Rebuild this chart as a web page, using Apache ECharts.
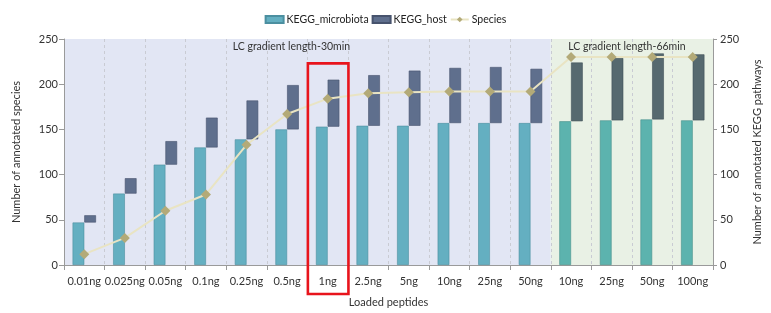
<!DOCTYPE html>
<html><head><meta charset="utf-8">
<script src="https://cdn.jsdelivr.net/npm/echarts@6/dist/echarts.min.js"></script>
<style>html,body{margin:0;padding:0;background:#fff}#c{width:771px;height:313px}</style>
</head><body><div id="c"></div>
<script>
var categories = ['0.01ng','0.025ng','0.05ng','0.1ng','0.25ng','0.5ng','1ng','2.5ng','5ng','10ng','25ng','50ng','10ng','25ng','50ng','100ng'];
var microbiota = [47,79,111,130,139,150,153,154,154,157,157,157,159,160,161,160];
var hostTop = [55,96,137,163,182,199,205,210,215,218,219,217,224,229,234,233];
var species = [12,30,60,78,133,167,184,190,191,192,192,192,230,230,230,230];
var yTicks = [0,50,100,150,200,250];
var regionLabels = ['LC gradient length-30min','LC gradient length-66min'];
var regionEndIndex = 11; // last category of first region
var highlightIndex = 6;  // '1ng'

var FONT = 'Lato';
var chart = echarts.init(document.getElementById('c'), null, {renderer:'canvas'});

function inRegion2(i){ return i > regionEndIndex; }
var microData = microbiota.map(function(v,i){
  return {value:v, itemStyle: inRegion2(i) ? {color:'#5cb3ae', borderColor:'#48908c'} : {color:'#64afc1', borderColor:'#4b8fa0'}};
});
var baseData = microbiota.map(function(v){ return v; });
var hostData = hostTop.map(function(v,i){
  return {value: v - microbiota[i], itemStyle: inRegion2(i) ? {color:'#56696f', borderColor:'#405157'} : {color:'#5f6f8d', borderColor:'#47536d'}};
});

var axisLabelStyle = {fontFamily:FONT, fontSize:11, color:'#333'};
var option = {
  animation:false,
  textStyle:{fontFamily:FONT},
  legend:{
    top:9, left:'center', itemGap:3, itemWidth:18, itemHeight:7,
    textStyle:{fontFamily:FONT, fontSize:10.5, color:'#222', padding:[0,0,0,-2]},
    data:[{name:'KEGG_microbiota', icon:'rect'},{name:'KEGG_host', icon:'rect'},{name:'Species'}]
  },
  grid:{left:64, right:48.5, top:39, bottom:41, containLabel:false},
  xAxis:{
    type:'category', data:categories, boundaryGap:true,
    name:'Loaded peptides', nameLocation:'middle', nameGap:32,
    nameTextStyle:{fontFamily:FONT, fontSize:11, color:'#333'},
    axisLine:{lineStyle:{color:'#9a9a9a'}},
    axisTick:{show:true, length:5, alignWithLabel:false, lineStyle:{color:'#9a9a9a'}},
    axisLabel:Object.assign({margin:11, interval:0}, axisLabelStyle),
    splitLine:{show:true, interval:0, lineStyle:{color:'#c9cbd3', type:[3,3], width:1}}
  },
  yAxis:[{
    type:'value', min:yTicks[0], max:yTicks[yTicks.length-1], interval:50,
    name:'Number of annotated species', nameLocation:'middle', nameGap:42, nameRotate:90,
    nameTextStyle:{fontFamily:FONT, fontSize:11, color:'#333'},
    axisLine:{show:true, lineStyle:{color:'#9a9a9a'}},
    axisTick:{show:true, length:5, lineStyle:{color:'#9a9a9a'}},
    axisLabel:Object.assign({margin:6}, axisLabelStyle),
    splitLine:{show:false}
  },{
    type:'value', min:yTicks[0], max:yTicks[yTicks.length-1], interval:50, position:'right',
    name:'Number of annotated KEGG pathways', nameLocation:'middle', nameGap:39, nameRotate:90,
    nameTextStyle:{fontFamily:FONT, fontSize:11, color:'#333'},
    axisLine:{show:true, lineStyle:{color:'#9a9a9a'}},
    axisTick:{show:true, length:4, lineStyle:{color:'#9a9a9a'}},
    axisLabel:Object.assign({margin:7}, axisLabelStyle),
    splitLine:{show:false}
  }],
  series:[
    {name:'KEGG_microbiota', type:'bar', yAxisIndex:1, stack:'m', barWidth:11.7, barGap:'0%',
     itemStyle:{color:'#64afc1', borderColor:'#4b8fa0', borderWidth:0.6}, data:microData, z:3},
    {name:'_base', type:'bar', yAxisIndex:1, stack:'h', barWidth:11.7, barGap:'0%',
     itemStyle:{color:'rgba(0,0,0,0)'}, data:baseData, z:3, silent:true},
    {name:'KEGG_host', type:'bar', yAxisIndex:1, stack:'h', barWidth:11.7, barGap:'0%',
     itemStyle:{color:'#5f6f8d', borderColor:'#47536d', borderWidth:0.6}, data:hostData, z:3},
    {name:'Species', type:'line', yAxisIndex:0, data:species, symbol:'diamond', symbolSize:10,
     lineStyle:{color:'#e9e4c3', width:2}, itemStyle:{color:'#b3aa78'}, z:5}
  ]
};
chart.setOption(option);

function overlays(){
  var g = [];
  var n = categories.length;
  var band = chart.convertToPixel({xAxisIndex:0}, 1) - chart.convertToPixel({xAxisIndex:0}, 0);
  var yTop = chart.convertToPixel({yAxisIndex:0}, yTicks[yTicks.length-1]);
  var yBot = chart.convertToPixel({yAxisIndex:0}, 0);
  var x0 = chart.convertToPixel({xAxisIndex:0}, 0) - band/2;
  var xm = chart.convertToPixel({xAxisIndex:0}, regionEndIndex) + band/2;
  var x1 = chart.convertToPixel({xAxisIndex:0}, n-1) + band/2;
  g.push({type:'rect', shape:{x:x0, y:yTop, width:xm-x0, height:yBot-yTop}, style:{fill:'#e2e6f4'}, z:-10, silent:true});
  g.push({type:'rect', shape:{x:xm, y:yTop, width:x1-xm, height:yBot-yTop}, style:{fill:'#e9f1e5'}, z:-10, silent:true});
  g.push({type:'text', x:(x0+xm)/2 - 16, y:yTop + 8, style:{text:regionLabels[0], font:'10.5px '+FONT, fill:'#333', align:'center', verticalAlign:'middle'}, z:10});
  g.push({type:'text', x:(xm+x1)/2 - 5, y:yTop + 8, style:{text:regionLabels[1], font:'10.5px '+FONT, fill:'#333', align:'center', verticalAlign:'middle'}, z:10});
  var hc = chart.convertToPixel({xAxisIndex:0}, highlightIndex);
  var hy = chart.convertToPixel({yAxisIndex:0}, 223);
  g.push({type:'rect', shape:{x:hc-band/2+0.5, y:hy, width:band, height:(yBot+29)-hy}, style:{fill:'none', stroke:'#e8141c', lineWidth:2.6}, z:20, silent:true});
  chart.setOption({graphic:{elements:g}});
}
overlays();
</script>
</body></html>
